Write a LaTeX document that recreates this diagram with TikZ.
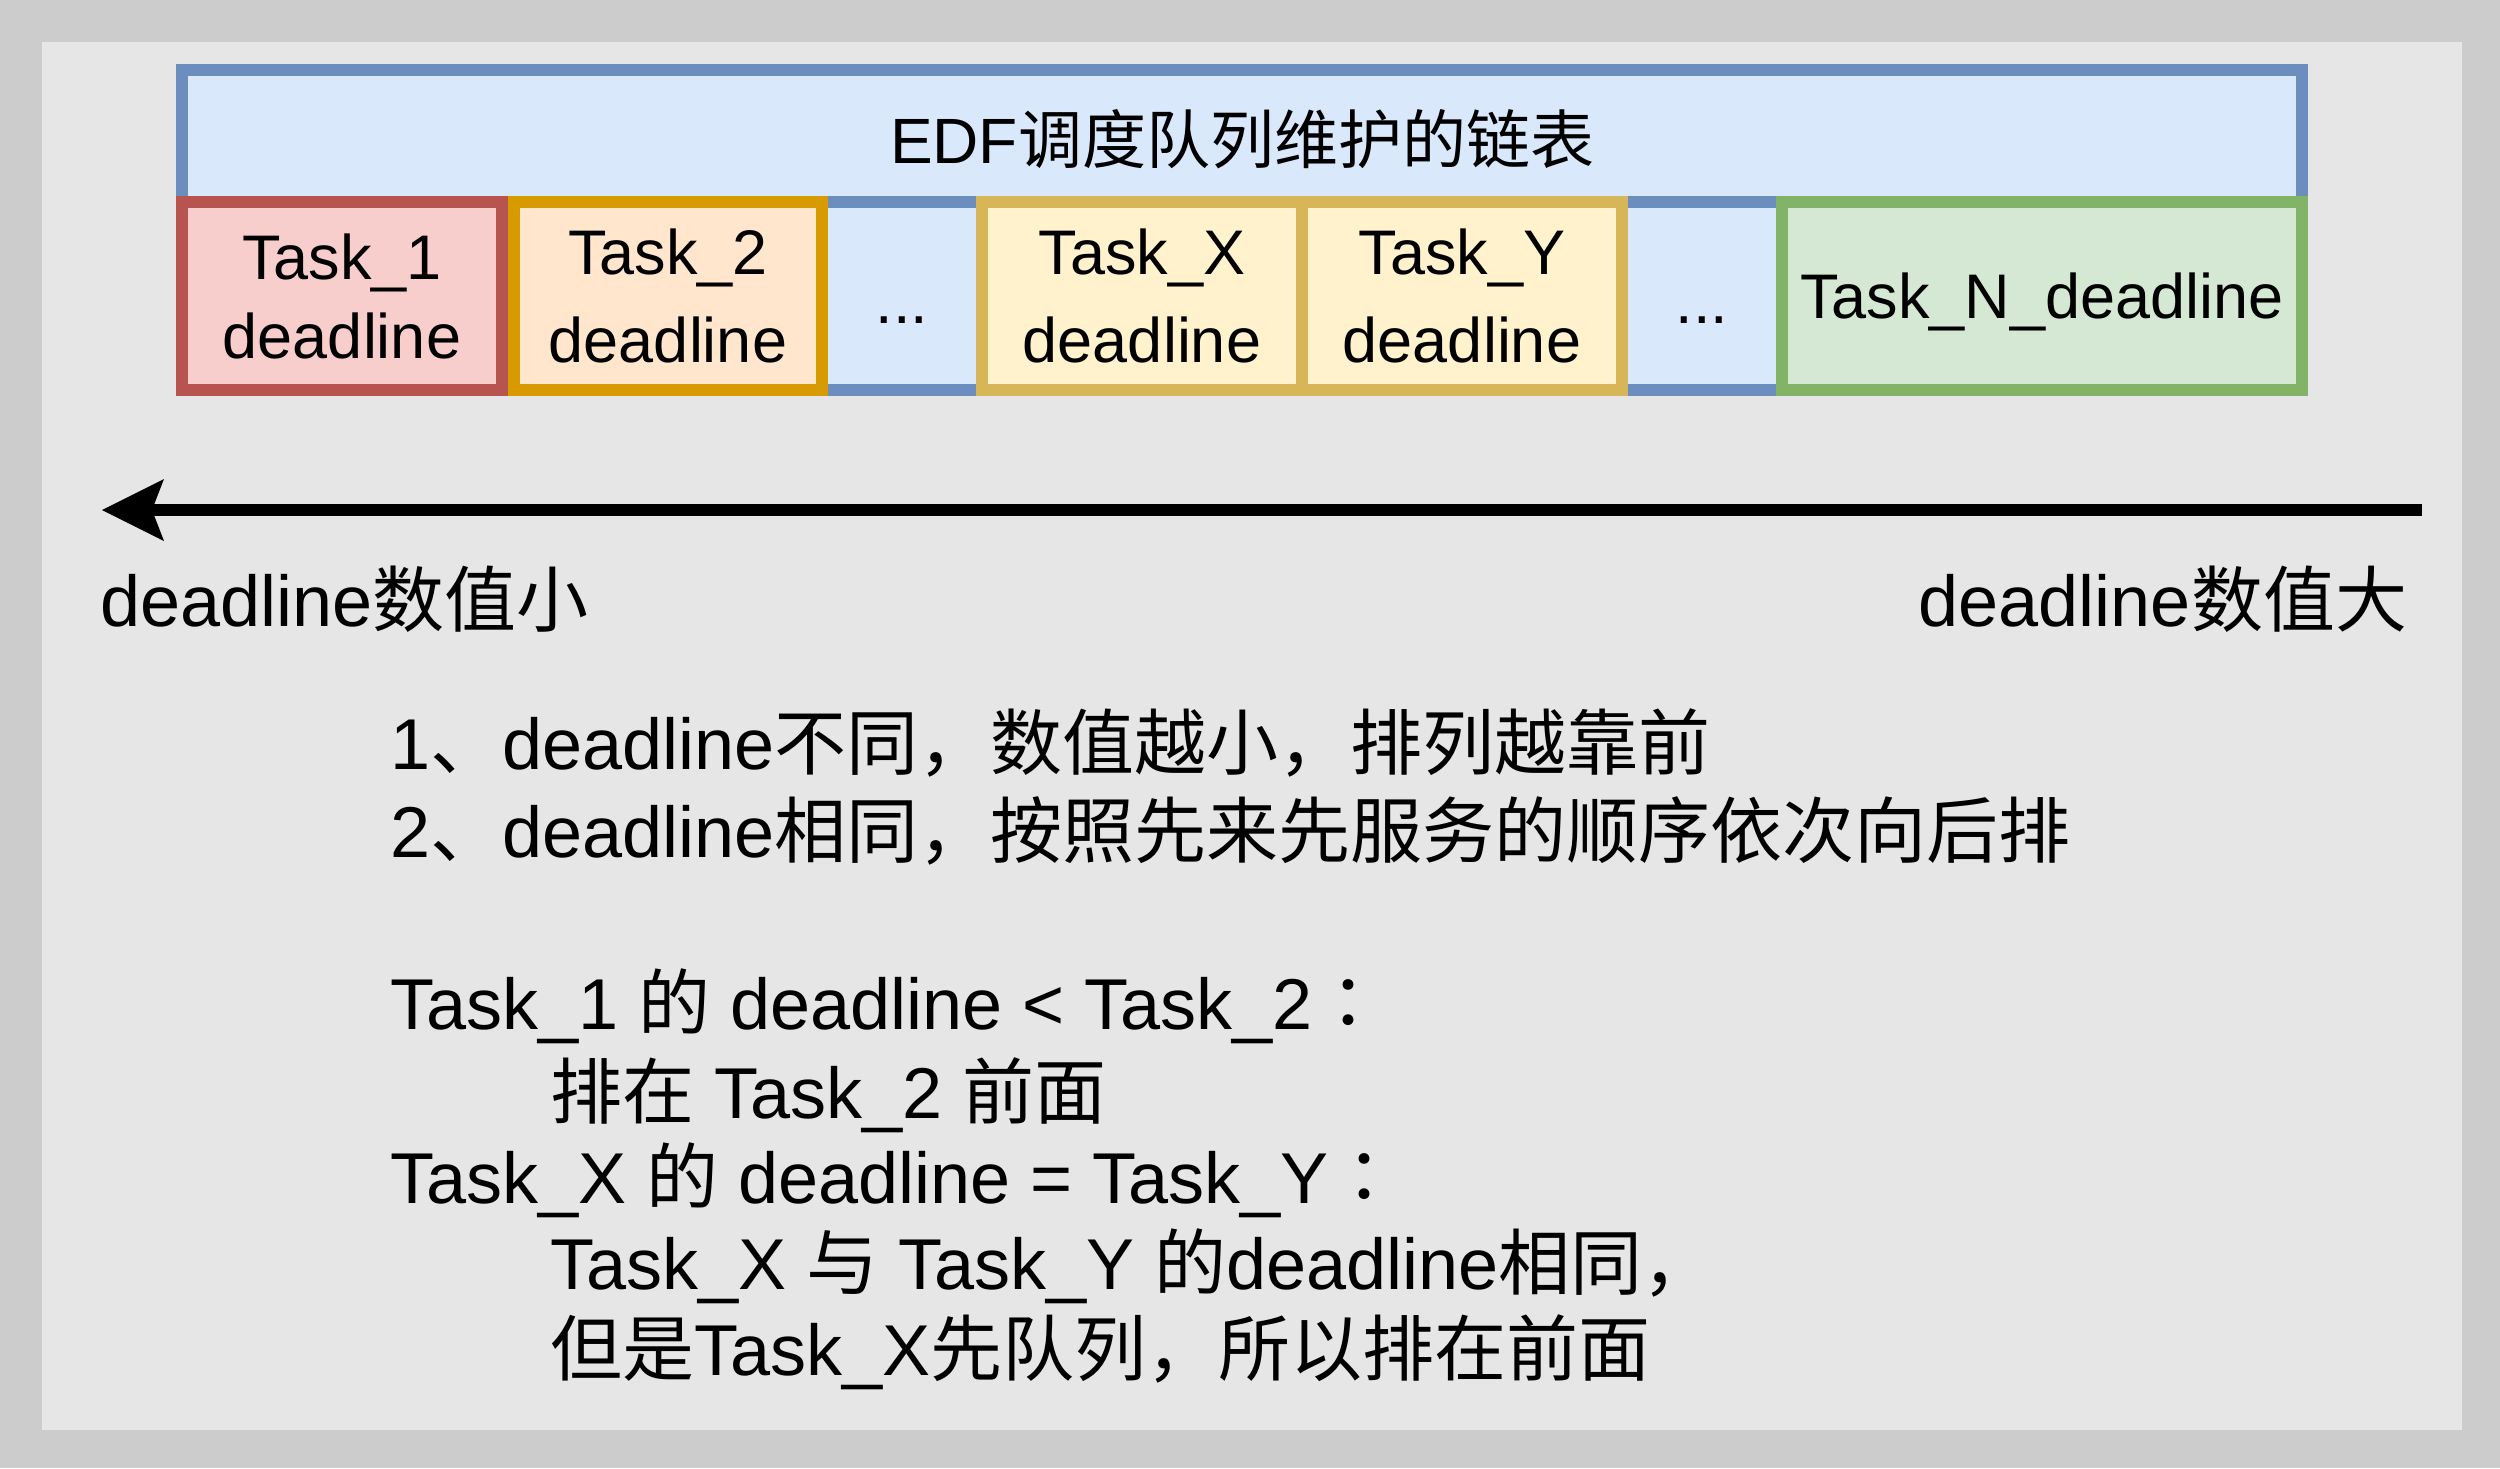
\documentclass[tikz,border=0pt]{standalone}
\usepackage{fontspec}
\setmainfont{Liberation Sans}
\newfontfamily\cjkfnt{Noto Sans CJK SC}
\newfontfamily\cjkcolonfnt{Noto Sans CJK TC}
\usetikzlibrary{arrows.meta}
\newcommand{\zhtxt}[1]{{\cjkfnt #1}}
\newcommand{\zhcolon}{{\cjkcolonfnt ：}}
\newcommand{\cellfnt}{\fontsize{31.5}{43.7}\selectfont}
\newcommand{\bodyfnt}{\fontsize{36}{43.3}\selectfont}
\newcommand{\titlefnt}{\fontsize{32}{38}\selectfont}
\definecolor{outerbg}{HTML}{CCCCCC}
\definecolor{innerbg}{HTML}{E6E6E6}
\definecolor{bluefill}{HTML}{DAE8FC}
\definecolor{bluestroke}{HTML}{6C8EBF}
\definecolor{redfill}{HTML}{F8CECC}
\definecolor{redstroke}{HTML}{B85450}
\definecolor{orangefill}{HTML}{FFE6CC}
\definecolor{orangestroke}{HTML}{D79B00}
\definecolor{yellowfill}{HTML}{FFF2CC}
\definecolor{yellowstroke}{HTML}{D6B656}
\definecolor{greenfill}{HTML}{D5E8D4}
\definecolor{greenstroke}{HTML}{82B366}
\begin{document}
\begin{tikzpicture}[x=0.5pt,y=-0.5pt,
  cellbox/.style={draw, line width=6pt, inner sep=0pt, outer sep=0pt, minimum height=94pt, align=center, font=\cellfnt},
  dots/.style={inner sep=0pt, outer sep=0pt, anchor=base, font=\cellfnt},
  lbl/.style={inner sep=0pt, outer sep=0pt, font=\bodyfnt},
  axis/.style={line width=6.35pt, -{Stealth[length=31pt, width=31pt, inset=6pt, line width=0pt]}}
  ]
\fill[outerbg] (0,0) rectangle (2500,1468);
\useasboundingbox (0,0) rectangle (2500,1468);
\fill[innerbg] (41.5,41.5) rectangle (2461.5,1430);
% list container
\node[draw=bluestroke, fill=bluefill, line width=6pt, inner sep=0pt, outer sep=0pt,
      minimum width=1060pt, minimum height=160pt] (list) at (1242,230) {};
\draw[bluestroke, line width=6pt] (182,202) -- (2302,202);
\node[inner sep=0pt, anchor=base, font=\titlefnt] (title) at (1242,163) {EDF\zhtxt{调度队列维护的链表}};
% cells
\node[cellbox, draw=orangestroke, fill=orangefill, minimum width=154pt] (t2) at (668,296) {Task\_2\\deadline};
\node[cellbox, draw=redstroke, fill=redfill, minimum width=160pt, font=\fontsize{31.5}{39.5}\selectfont] (t1) at (342,296) {Task\_1\\deadline};
\node[cellbox, draw=yellowstroke, fill=yellowfill, minimum width=160pt] (tx) at (1142,296) {Task\_X\\deadline};
\node[cellbox, draw=yellowstroke, fill=yellowfill, minimum width=160pt] (ty) at (1462,296) {Task\_Y\\deadline};
\node[cellbox, draw=greenstroke, fill=greenfill, minimum width=260pt, text depth=0pt] (tn) at (2042,296) {Task\_N\_deadline};
\node[dots] (e1) at (902,323) {...};
\node[dots] (e2) at (1702,323) {...};
% axis
\coordinate (axR) at (2422,510);
\coordinate (axL) at (102,510);
\draw[axis] (axR) -- (axL);
\node[lbl, anchor=base west] (small) at (100,626) {deadline\zhtxt{数值小}};
\node[lbl, anchor=base east] (large) at (2407,626) {deadline\zhtxt{数值大}};
% notes
\node[lbl, anchor=base west] (r1) at (390,769) {1\zhtxt{、}deadline\zhtxt{不同，数值越小，排列越靠前}};
\node[lbl, anchor=base west] (r2) at (390,857) {2\zhtxt{、}deadline\zhtxt{相同，按照先来先服务的顺序依次向后排}};
\node[lbl, anchor=base west] (c1) at (390,1029) {Task\_1 \zhtxt{的} deadline < Task\_2\zhcolon};
\node[lbl, anchor=base west] (c1b) at (550,1118) {\zhtxt{排在} Task\_2 \zhtxt{前面}};
\node[lbl, anchor=base west] (c2) at (390,1203) {Task\_X \zhtxt{的} deadline = Task\_Y\zhcolon};
\node[lbl, anchor=base west] (c2b) at (550,1289) {Task\_X \zhtxt{与} Task\_Y \zhtxt{的}deadline\zhtxt{相同，}};
\node[lbl, anchor=base west] (c2c) at (550,1375) {\zhtxt{但是}Task\_X\zhtxt{先队列，所以排在前面}};
\end{tikzpicture}
\end{document}
